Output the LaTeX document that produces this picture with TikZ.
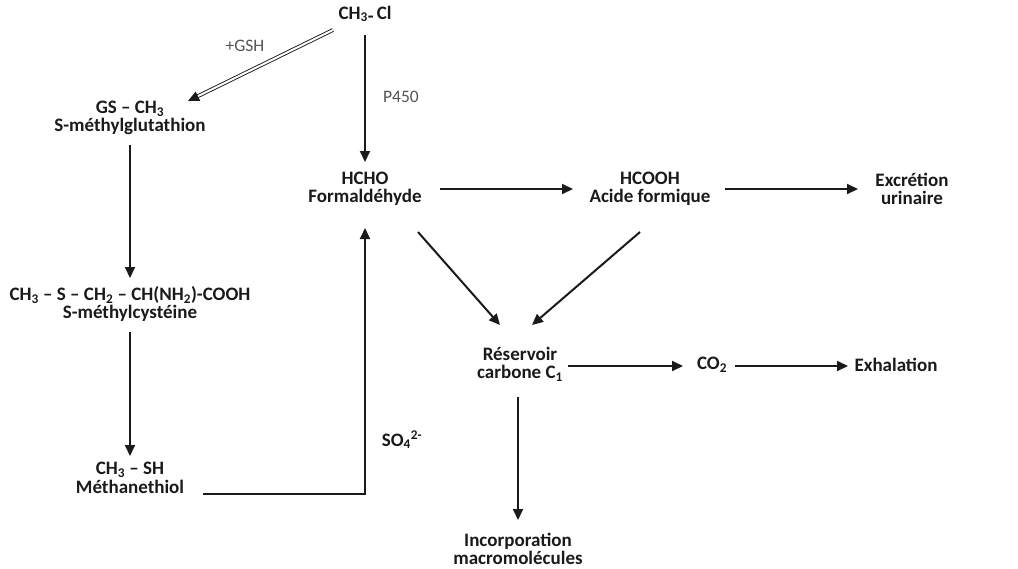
\documentclass[tikz,border=0pt]{standalone}
\usepackage{fontspec}
\setmainfont{Carlito}
\usetikzlibrary{arrows.meta,calc}
\newcommand\lowsub[1]{\textsubscript{#1}}
\definecolor{ink}{HTML}{1A1A1A}
\definecolor{lab}{HTML}{555555}
\begin{document}
\begin{tikzpicture}[x=1pt,y=-1pt,
  chem/.style={inner sep=0pt,align=center,text=ink,font=\fontsize{19}{18.5}\selectfont\bfseries},
  lbl/.style={inner sep=0pt,text=lab,font=\fontsize{17.5}{17.5}\selectfont},
  arr/.style={draw=ink,line width=2pt,-{Triangle[length=11pt,width=10pt]}},
  dbl/.style={draw=ink,line width=0.9pt,double=white,double distance=2pt,-{Triangle[length=11pt,width=10pt]}}]
\useasboundingbox (0,0) rectangle (1018,568);
% nodes
\node[chem] (cl) at (365,14) {CH\lowsub{3}\raisebox{-0.35ex}{-}\,Cl};
\node[chem] (gs) at (130,118) {GS -- CH\lowsub{3}\\S-méthylglutathion};
\node[chem] (hcho) at (365,189) {HCHO\\Formaldéhyde};
\node[chem] (hcooh) at (650,189) {HCOOH\\Acide formique};
\node[chem] (excr) at (912,189) {Excrétion\\urinaire};
\node[chem] (cys) at (130,304) {CH\lowsub{3} -- S -- CH\lowsub{2} -- CH(NH\lowsub{2})-COOH\\S-méthylcystéine};
\node[chem] (mt) at (130,478) {CH\lowsub{3} -- SH\\Méthanethiol};
\node[chem] (res) at (520,364) {Réservoir\\carbone C\lowsub{1}};
\node[chem] (co2) at (712,365) {CO\lowsub{2}};
\node[chem] (exh) at (896,365) {Exhalation};
\node[chem] (inc) at (518,549) {Incorporation\\macromolécules};
\node[lbl] (gsh) at (245,46) {+GSH};
\node[lbl] (p450) at (401,97) {P450};
\node[chem] (so4) at (402,440) {SO\lowsub{4}\textsuperscript{2-}};
% connectors
\draw[dbl] ($(cl)+(-32,16)$) -- ($(gs)+(58,-17)$);
\draw[arr] ($(cl)+(0,21)$) -- ($(hcho)+(0,-27)$);
\draw[arr] ($(hcho)+(75,0)$) -- ($(hcooh)+(-77,0)$);
\draw[arr] ($(hcooh)+(75,0)$) -- ($(excr)+(-54,0)$);
\draw[arr] ($(gs)+(0,27)$) -- ($(cys)+(0,-26)$);
\draw[arr] ($(cys)+(0,28)$) -- ($(mt)+(0,-22)$);
\draw[arr] ($(mt)+(73,16)$) -| ($(hcho)+(0,39)$);
\draw[arr] ($(hcho)+(53,43)$) -- ($(res)+(-20,-39)$);
\draw[arr] ($(hcooh)+(-10,43)$) -- ($(res)+(12,-39)$);
\draw[arr] ($(res)+(48,2)$) -- ($(co2)+(-29,1)$);
\draw[arr] ($(co2)+(23,1)$) -- ($(exh)+(-48,1)$);
\draw[arr] ($(res)+(-2,33)$) -- ($(inc)+(0,-29)$);
\end{tikzpicture}
\end{document}
